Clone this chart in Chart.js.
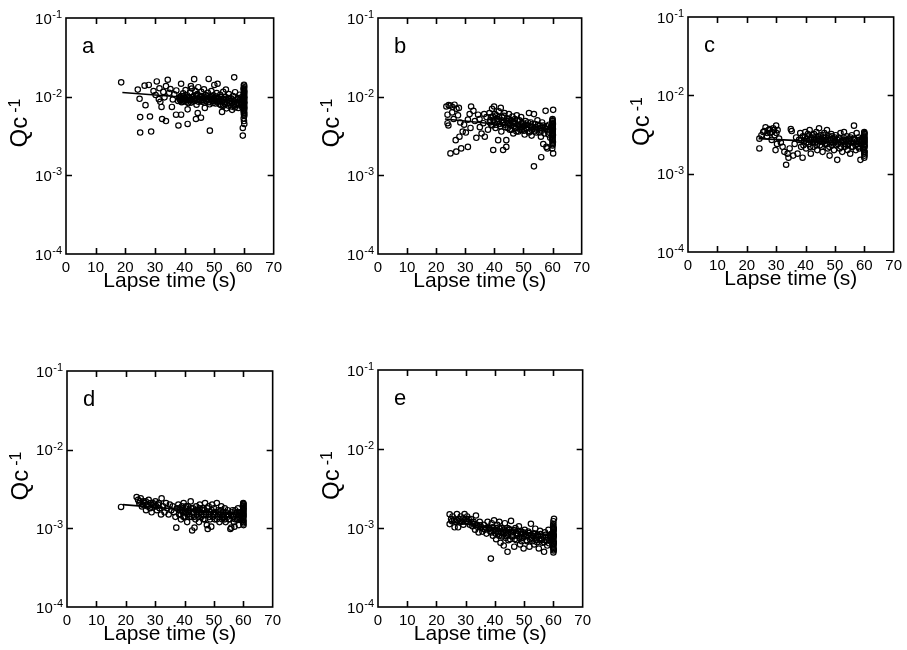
<!DOCTYPE html>
<html>
<head>
<meta charset="utf-8">
<script src="https://cdn.jsdelivr.net/npm/chart.js@4/dist/chart.umd.min.js"></script>
<style>
  html, body { margin: 0; padding: 0; background: #fff; width: 907px; height: 650px; overflow: hidden; }
  canvas { position: absolute; }
</style>
</head>
<body>
<canvas id="panelA"></canvas>
<canvas id="panelB"></canvas>
<canvas id="panelC"></canvas>
<canvas id="panelD"></canvas>
<canvas id="panelE"></canvas>
<script>
// axis ticks
const xTicks = [0, 10, 20, 30, 40, 50, 60, 70];
const yTicks = [1e-4, 1e-3, 1e-2, 1e-1];
const yTickExp = ['-4', '-3', '-2', '-1'];
const panelLetters = ['a', 'b', 'c', 'd', 'e'];

// panel a : [lapse time (s), Qc^-1]
const ptsA = [
  [18.6,0.0152],[24.2,0.0123],[24.8,0.0094],[25.0,0.0055],[25.0,0.0035],[26.8,0.0078],[26.5,0.0138],[27.9,0.0141],
  [28.3,0.0056],[28.7,0.0036],[30.6,0.0156],[31.3,0.0093],[32.2,0.0074],[32.4,0.0052],[33.7,0.0049],[33.7,0.0136],
  [34.3,0.0164],[35.7,0.0074],[37.1,0.0059],[37.9,0.0043],[38.8,0.0059],[38.8,0.0146],[41.0,0.0045],[41.0,0.0069],
  [42.1,0.0136],[43.2,0.0167],[43.8,0.0052],[44.4,0.0062],[45.5,0.0054],[48.1,0.0168],[48.5,0.0037],[50.0,0.0141],
  [51.1,0.0146],[52.6,0.0064],[53.9,0.0123],[56.7,0.0176],[59.6,0.0032],[59.6,0.0040],
  [29.5,0.0118],[30.2,0.0105],[31.5,0.0128],[31.8,0.0086],[32.8,0.0115],[33.2,0.0098],[34.8,0.0112],[35.2,0.0125],
  [36.0,0.0092],[36.5,0.0107],[37.2,0.0120],[37.8,0.0088],
  [38.2,0.0095],[38.5,0.0090],[38.7,0.0102],[39.0,0.0085],[39.2,0.0093],[39.5,0.0110],[39.8,0.0097],[40.0,0.0088],
  [40.3,0.0121],[40.5,0.0092],[40.8,0.0104],[41.2,0.0083],[41.5,0.0098],[41.8,0.0113],[42.0,0.0091],[42.4,0.0127],
  [42.7,0.0087],[43.0,0.0101],[43.3,0.0094],[43.6,0.0118],[44.0,0.0079],[44.3,0.0108],[44.6,0.0132],[44.9,0.0090],
  [45.2,0.0100],[45.6,0.0115],[45.9,0.0086],[46.2,0.0096],[46.5,0.0124],[46.8,0.0072],[47.1,0.0105],[47.5,0.0093],
  [47.8,0.0112],[48.2,0.0085],[48.6,0.0099],[49.0,0.0118],[49.3,0.0088],[49.7,0.0104],[50.1,0.0093],[50.4,0.0082],
  [50.8,0.0111],[51.2,0.0097],[51.6,0.0087],[52.0,0.0106],[52.3,0.0078],[52.7,0.0094],[53.0,0.0115],[53.4,0.0085],
  [53.8,0.0099],[54.1,0.0071],[54.5,0.0090],[54.9,0.0108],[55.2,0.0083],[55.6,0.0095],[56.0,0.0068],[56.3,0.0102],
  [56.7,0.0087],[57.0,0.0114],[57.4,0.0079],[57.8,0.0093],[58.1,0.0072],[58.5,0.0106],[58.8,0.0085],[59.2,0.0098],
  [38.4,0.0098],[38.9,0.0092],[39.4,0.0087],[39.6,0.0101],[40.1,0.0095],[40.6,0.0086],[40.9,0.0098],[41.3,0.0090],
  [41.7,0.0095],[42.2,0.0084],[42.5,0.0099],[42.9,0.0093],[43.4,0.0088],[43.8,0.0104],[44.2,0.0093],[44.7,0.0086],
  [45.1,0.0094],[45.4,0.0089],[45.8,0.0102],[46.3,0.0091],[46.6,0.0084],[47.0,0.0097],[47.3,0.0088],[47.7,0.0101],
  [48.0,0.0092],[48.4,0.0080],[48.8,0.0094],[49.2,0.0100],[49.5,0.0083],[49.9,0.0097],[50.3,0.0089],[50.6,0.0100],
  [51.0,0.0086],[51.4,0.0093],[51.8,0.0080],[52.2,0.0099],[52.5,0.0087],[52.9,0.0076],[53.2,0.0092],[53.6,0.0080],
  [54.0,0.0094],[54.3,0.0083],[54.7,0.0077],[55.0,0.0096],[55.4,0.0088],[55.8,0.0075],[56.1,0.0092],[56.5,0.0080],
  [56.9,0.0073],[57.2,0.0090],[57.6,0.0084],[58.0,0.0096],[58.3,0.0078],[58.7,0.0091],[59.0,0.0082],[59.4,0.0074],
  [59.5,0.0088],
  [60.0,0.0142],[60.1,0.0132],[59.9,0.0124],[60.0,0.0117],[60.1,0.0110],[59.9,0.0104],[60.0,0.0099],[60.1,0.0094],
  [59.9,0.0089],[60.0,0.0085],[60.1,0.0081],[59.9,0.0077],[60.0,0.0073],[60.1,0.0069],[59.9,0.0065],[60.0,0.0061],
  [60.1,0.0057],[59.9,0.0053],[60.0,0.0049],[60.1,0.0045],
  [60.0,0.0138],[59.9,0.0128],[60.1,0.0120],[60.0,0.0113],[59.9,0.0107],[60.1,0.0101],[60.0,0.0096],[59.9,0.0091],
  [60.1,0.0087],[60.0,0.0083],[59.9,0.0079],[60.1,0.0075],[60.0,0.0071],[59.9,0.0067],[60.1,0.0063],[60.0,0.0059]
];
const fitAX = [19, 60];
const fitAY = [0.0113, 0.0086];

// panel b
const ptsB = [
  [23.5,0.0075],[24.3,0.0078],[24.9,0.0077],[25.6,0.0074],[26.3,0.0079],[27.0,0.0070],[27.8,0.0072],[23.9,0.0059],
  [23.9,0.0046],[24.2,0.0043],[24.9,0.0019],[26.9,0.0020],[28.6,0.0022],[30.9,0.0023],[26.7,0.0028],[28.0,0.0031],
  [29.1,0.0036],[29.6,0.0044],[30.9,0.0051],[31.5,0.0060],[32.0,0.0075],[32.8,0.0066],[33.3,0.0049],[33.8,0.0030],
  [34.4,0.0059],[35.0,0.0041],[35.6,0.0034],[36.2,0.0046],[36.7,0.0031],[37.3,0.0055],[37.8,0.0038],[30.2,0.0035],
  [31.8,0.0040],[27.5,0.0058],[28.3,0.0047],[25.5,0.0063],[26.0,0.0052],[34.9,0.0052],[36.5,0.0060],
  [38.3,0.0062],[38.6,0.0050],[38.9,0.0044],[39.2,0.0070],[39.5,0.0056],[39.6,0.0021],[39.9,0.0075],[40.1,0.0047],
  [40.4,0.0040],[40.7,0.0058],[41.0,0.0052],[41.3,0.0028],[41.5,0.0065],[41.8,0.0045],[42.2,0.0072],[42.4,0.0036],
  [42.7,0.0055],[43.0,0.0021],[43.2,0.0048],[43.5,0.0062],[43.8,0.0041],[44.1,0.0023],[44.1,0.0028],[44.4,0.0053],
  [44.7,0.0046],[45.0,0.0060],[45.3,0.0038],[45.6,0.0050],[45.9,0.0043],[46.2,0.0056],[46.5,0.0034],[46.8,0.0047],
  [47.1,0.0052],[47.4,0.0040],[47.7,0.0058],[48.0,0.0044],[48.3,0.0036],[48.6,0.0050],[48.9,0.0041],[49.2,0.0055],
  [49.5,0.0038],[49.8,0.0046],[50.1,0.0042],[50.4,0.0033],[50.7,0.0049],[51.0,0.0039],[51.3,0.0044],[51.9,0.0062],
  [52.2,0.0036],[52.5,0.0047],[52.8,0.0032],[53.1,0.0041],[53.6,0.0060],[53.6,0.0013],[54.0,0.0045],[54.4,0.0035],
  [54.8,0.0050],[55.2,0.0039],[55.6,0.0043],[56.0,0.0031],[56.1,0.0017],[56.4,0.0047],[56.8,0.0025],[57.2,0.0040],
  [57.6,0.0066],[57.9,0.0023],[58.2,0.0022],[58.4,0.0036],[58.8,0.0044],[59.2,0.0030],
  [38.4,0.0047],[38.8,0.0055],[39.3,0.0043],[39.7,0.0051],[40.2,0.0060],[40.6,0.0044],[41.1,0.0049],[41.6,0.0055],
  [42.0,0.0042],[42.5,0.0050],[42.9,0.0046],[43.3,0.0057],[43.7,0.0044],[44.2,0.0049],[44.6,0.0040],[45.1,0.0052],
  [45.5,0.0045],[45.9,0.0038],[46.3,0.0048],[46.7,0.0042],[47.2,0.0046],[47.6,0.0036],[48.0,0.0050],[48.5,0.0043],
  [48.9,0.0038],[49.3,0.0046],[49.7,0.0041],[50.2,0.0037],[50.6,0.0044],[51.1,0.0040],[51.5,0.0047],[51.9,0.0035],
  [52.4,0.0042],[52.8,0.0038],[53.3,0.0045],[53.7,0.0036],[54.2,0.0041],[54.6,0.0038],[55.0,0.0044],[55.5,0.0035],
  [55.9,0.0040],[56.3,0.0037],[56.8,0.0043],[57.2,0.0034],[57.7,0.0039],[58.1,0.0042],[58.6,0.0033],[59.0,0.0038],
  [59.4,0.0041],
  [60.2,0.0068],[60.0,0.0052],[59.9,0.0049],[60.1,0.0046],[60.0,0.0043],[59.9,0.0041],[60.1,0.0039],[60.0,0.0037],
  [59.9,0.0035],[60.1,0.0033],[60.0,0.0031],[59.9,0.0029],[60.1,0.0027],[60.0,0.0025],[60.2,0.0019],
  [60.0,0.0050],[59.9,0.0047],[60.1,0.0044],[60.0,0.0042],[59.9,0.0040],[60.1,0.0038],[60.0,0.0036],[59.9,0.0034],
  [60.1,0.0032],[60.0,0.0030],[59.9,0.0028],[60.1,0.0026],[60.0,0.0024],[59.9,0.0022]
];
const fitBX = [23, 60];
const fitBY = [0.0052, 0.0038];

// panel c
const ptsC = [
  [24.3,0.0028],[24.3,0.0021],[25.0,0.0031],[25.6,0.0034],[26.4,0.0039],[26.9,0.0030],[27.4,0.0036],[28.0,0.0033],
  [28.5,0.0027],[29.0,0.0038],[29.5,0.0031],[30.0,0.0041],[30.5,0.0036],[30.3,0.0024],[29.8,0.0020],[31.0,0.0028],
  [31.6,0.0025],[32.2,0.0022],[32.8,0.0019],[33.4,0.0013],[33.9,0.0018],[34.2,0.0016],[34.6,0.0021],[35.0,0.0037],
  [35.3,0.0035],[35.8,0.0017],[36.3,0.0024],[36.8,0.0029],[37.3,0.0018],[37.8,0.0027],
  [26.0,0.0035],[27.0,0.0033],[27.8,0.0037],[28.6,0.0034],[29.3,0.0036],[30.1,0.0033],
  [38.2,0.0033],[38.5,0.0022],[39.0,0.0016],[39.1,0.0030],[39.5,0.0026],[39.9,0.0034],[40.2,0.0021],[40.5,0.0028],
  [40.8,0.0032],[41.1,0.0024],[41.4,0.0036],[41.8,0.0018],[42.0,0.0027],[42.4,0.0031],[42.7,0.0022],[43.0,0.0029],
  [43.3,0.0025],[43.7,0.0034],[44.0,0.0020],[44.3,0.0028],[44.6,0.0038],[44.9,0.0023],[45.2,0.0031],[45.5,0.0026],
  [45.8,0.0019],[46.1,0.0029],[46.4,0.0033],[46.7,0.0024],[47.0,0.0027],[47.3,0.0036],[47.6,0.0021],[47.9,0.0030],
  [48.2,0.0017],[48.5,0.0025],[48.8,0.0032],[49.1,0.0023],[49.4,0.0028],[49.7,0.0020],[50.0,0.0026],[50.3,0.0031],
  [50.8,0.0015],[51.0,0.0024],[51.3,0.0029],[51.6,0.0021],[51.9,0.0033],[52.2,0.0025],[52.5,0.0019],[52.8,0.0027],
  [53.1,0.0034],[53.4,0.0022],[53.7,0.0026],[54.0,0.0030],[54.3,0.0020],[54.6,0.0024],[54.9,0.0028],[55.2,0.0018],
  [55.5,0.0025],[55.8,0.0031],[56.1,0.0022],[56.5,0.0041],[56.8,0.0027],[57.1,0.0020],[57.4,0.0033],[57.7,0.0024],
  [58.0,0.0029],[58.3,0.0021],[58.7,0.0015],[59.0,0.0026],
  [38.6,0.0027],[39.3,0.0023],[39.8,0.0029],[40.3,0.0025],[40.7,0.0030],[41.2,0.0027],[41.6,0.0022],[42.1,0.0029],
  [42.5,0.0025],[42.9,0.0032],[43.4,0.0027],[43.8,0.0023],[44.2,0.0030],[44.7,0.0026],[45.1,0.0028],[45.5,0.0022],
  [46.0,0.0031],[46.4,0.0026],[46.9,0.0029],[47.3,0.0024],[47.7,0.0028],[48.1,0.0022],[48.6,0.0027],[49.0,0.0030],
  [49.5,0.0025],[49.9,0.0029],[50.4,0.0023],[50.8,0.0027],[51.2,0.0025],[51.7,0.0028],[52.1,0.0022],[52.6,0.0026],
  [53.0,0.0029],[53.5,0.0024],[53.9,0.0027],[54.4,0.0023],[54.8,0.0026],[55.3,0.0029],[55.7,0.0022],[56.2,0.0025],
  [56.6,0.0028],[57.0,0.0023],[57.5,0.0026],[57.9,0.0022],[58.4,0.0027],[58.8,0.0024],[59.3,0.0028],[59.5,0.0021],
  [60.0,0.0034],[60.1,0.0032],[59.9,0.0030],[60.0,0.0028],[60.1,0.0026],[59.9,0.0025],[60.0,0.0023],[60.1,0.0022],
  [59.9,0.0020],[60.0,0.0019],[60.1,0.0017],[60.0,0.0016],
  [60.0,0.0033],[59.9,0.0031],[60.1,0.0029],[60.0,0.0027],[59.9,0.0026],[60.1,0.0024],[60.0,0.0022],[59.9,0.0021],
  [60.1,0.0019],[60.0,0.0018]
];
const fitCX = [24, 60];
const fitCY = [0.0028, 0.0024];

// panel d
const ptsD = [
  [18.4,0.00187],[23.7,0.0025],[24.2,0.0023],[24.6,0.0021],[25.1,0.0024],[25.5,0.0019],[26.0,0.0022],[26.5,0.0021],
  [26.9,0.0017],[27.4,0.0020],[27.8,0.0023],[28.3,0.0018],[28.8,0.0016],[29.2,0.0021],[29.7,0.0019],[30.1,0.0022],
  [30.6,0.0017],[31.0,0.0020],[31.5,0.0018],[32.0,0.0015],[32.2,0.0024],[32.7,0.0019],[33.2,0.0016],[33.7,0.0021],
  [34.1,0.0018],[34.6,0.0015],[35.0,0.0020],[35.5,0.0017],[36.0,0.0019],[36.4,0.0016],[36.9,0.0014],[37.2,0.00102],
  [37.4,0.0018],
  [24.8,0.0022],[25.8,0.0020],[26.8,0.0022],[27.5,0.0019],[28.5,0.0021],[29.5,0.0020],[30.4,0.0019],[31.3,0.0021],
  [37.9,0.0020],[38.2,0.0015],[38.5,0.0017],[38.8,0.0013],[39.1,0.0019],[39.4,0.0016],[39.7,0.0021],[40.0,0.0014],
  [40.3,0.0018],[40.6,0.0016],[40.9,0.0012],[41.2,0.0019],[41.5,0.0015],[41.8,0.0017],[42.1,0.0022],[42.4,0.0014],
  [42.6,0.00094],[42.9,0.0018],[43.2,0.0016],[43.4,0.00102],[43.7,0.0013],[44.0,0.0019],[44.3,0.0015],[44.6,0.0017],
  [44.9,0.0012],[45.2,0.0020],[45.5,0.0016],[45.8,0.0014],[46.1,0.0018],[46.4,0.0013],[46.7,0.0017],[47.0,0.0021],
  [47.3,0.0015],[47.6,0.0011],[47.9,0.00098],[48.2,0.0019],[48.5,0.0014],[48.8,0.0016],[49.1,0.00105],[49.4,0.0020],
  [49.7,0.0015],[50.0,0.0018],[50.3,0.0013],[50.6,0.0016],[51.0,0.0021],[51.3,0.0014],[51.6,0.0017],[51.9,0.0012],
  [52.2,0.0015],[52.5,0.0019],[52.8,0.0013],[53.1,0.0016],[53.4,0.0014],[53.7,0.0018],[54.0,0.0012],[54.3,0.0015],
  [54.7,0.0017],[55.0,0.0013],[55.6,0.00098],[55.9,0.00102],[56.2,0.0016],[56.5,0.0014],[56.8,0.0012],[57.0,0.00105],
  [57.3,0.0017],[57.6,0.0015],[57.9,0.0013],[58.2,0.0018],[58.5,0.0011],[58.8,0.0015],[59.1,0.0016],
  [38.3,0.0018],[38.7,0.0015],[39.2,0.0017],[39.6,0.0014],[40.1,0.0016],[40.5,0.0019],[41.0,0.0015],[41.4,0.0017],
  [41.9,0.0014],[42.3,0.0018],[42.8,0.0016],[43.3,0.0014],[43.8,0.0017],[44.2,0.0016],[44.7,0.0014],[45.1,0.0018],
  [45.6,0.0015],[46.0,0.0017],[46.5,0.0015],[46.9,0.0013],[47.4,0.0016],[47.8,0.0018],[48.3,0.0015],[48.7,0.0013],
  [49.2,0.0017],[49.6,0.0014],[50.1,0.0016],[50.5,0.0015],[51.0,0.0013],[51.4,0.0016],[51.9,0.0015],[52.3,0.0017],
  [52.8,0.0014],[53.2,0.0015],[53.7,0.0013],[54.1,0.0016],[54.6,0.0014],[55.0,0.0015],[55.5,0.0013],[55.9,0.0015],
  [56.4,0.0017],[56.8,0.0014],[57.3,0.0013],[57.7,0.0016],[58.2,0.0014],[58.6,0.0016],[59.1,0.0013],[59.5,0.0015],
  [60.0,0.0021],[60.1,0.0020],[59.9,0.0019],[60.0,0.0018],[60.1,0.0017],[59.9,0.0016],[60.0,0.0015],[60.1,0.0014],
  [59.9,0.0013],[60.0,0.0012],[60.1,0.0011],
  [60.0,0.00205],[59.9,0.00195],[60.1,0.00185],[60.0,0.00175],[59.9,0.00165],[60.1,0.00155],[60.0,0.00145],
  [59.9,0.00135],[60.1,0.00125],[60.0,0.00115]
];
const fitDX = [19, 60];
const fitDY = [0.0020, 0.0015];

// panel e
const ptsE = [
  [24.5,0.00149],[24.5,0.00112],[25.0,0.0013],[25.5,0.0014],[26.2,0.00102],[26.6,0.0012],[27.0,0.0015],[27.4,0.00102],
  [27.9,0.0013],[28.3,0.0014],[28.8,0.0012],[29.2,0.0011],[29.6,0.0015],[30.0,0.0013],[30.5,0.0014],[30.9,0.0012],
  [31.4,0.0011],[31.8,0.0013],[32.3,0.00105],[32.7,0.0012],[33.2,0.00095],[33.5,0.00144],[33.9,0.0011],[34.4,0.00088],
  [34.8,0.0012],[35.3,0.00102],[35.7,0.0009],[36.2,0.0011],[36.6,0.00095],[37.1,0.00085],[37.5,0.0012],[38.0,0.0010],
  [25.3,0.00122],[26.0,0.00128],[27.2,0.00125],[28.0,0.00118],[29.0,0.00132],[30.2,0.00122],[31.0,0.0013],[32.0,0.00118],
  [33.0,0.00112],[34.0,0.00104],[35.0,0.00108],[36.0,0.00098],[37.0,0.0010],
  [38.4,0.0009],[38.6,0.00041],[38.9,0.00115],[39.3,0.0008],[39.7,0.00125],[40.0,0.00095],[40.4,0.00072],[40.8,0.0011],
  [41.2,0.00085],[41.5,0.0012],[41.9,0.00065],[42.3,0.0010],[42.7,0.0009],[43.0,0.0006],[43.4,0.00115],[43.8,0.0008],
  [44.2,0.0010],[44.3,0.0005],[44.6,0.0007],[45.0,0.00095],[45.5,0.00123],[45.8,0.00078],[46.2,0.0009],[46.6,0.00058],
  [47.0,0.0010],[47.4,0.0007],[47.8,0.00085],[48.2,0.00105],[48.6,0.00062],[49.0,0.0009],[49.4,0.00075],[49.8,0.00055],
  [50.2,0.00095],[50.6,0.0008],[51.0,0.00068],[51.4,0.0009],[51.8,0.00058],[52.3,0.00113],[52.6,0.00075],[53.0,0.00085],
  [53.4,0.00062],[53.8,0.00098],[54.2,0.0007],[54.6,0.00082],[55.0,0.00055],[55.4,0.00092],[55.8,0.00072],[56.2,0.00065],
  [56.8,0.0005],[57.1,0.00088],[57.5,0.00078],[57.9,0.0006],[58.3,0.00095],[58.7,0.0007],[59.1,0.00082],
  [38.2,0.00098],[38.8,0.00088],[39.1,0.00102],[39.5,0.00092],[40.2,0.00085],[40.6,0.0010],[41.0,0.0009],[41.4,0.0008],
  [41.7,0.00098],[42.1,0.00088],[42.5,0.00078],[42.9,0.00095],[43.2,0.00085],[43.6,0.00075],[44.0,0.0009],[44.4,0.00082],
  [44.8,0.00098],[45.2,0.00072],[45.6,0.00088],[46.0,0.0008],[46.4,0.00094],[46.8,0.00072],[47.2,0.00086],[47.6,0.0008],
  [48.0,0.00092],[48.4,0.00075],[48.8,0.00083],[49.2,0.00068],[49.6,0.00088],[50.0,0.00078],[50.4,0.00085],[50.8,0.0007],
  [51.2,0.0008],[51.6,0.00086],[52.0,0.00072],[52.4,0.00082],[52.8,0.00068],[53.2,0.00078],[53.6,0.00085],[54.0,0.00074],
  [54.4,0.00066],[54.8,0.0008],[55.2,0.00072],[55.6,0.00084],[56.0,0.0007],[56.4,0.00078],[56.8,0.00066],[57.3,0.00082],
  [57.7,0.0007],[58.1,0.00076],[58.5,0.00064],[58.9,0.00078],[59.3,0.0007],[59.5,0.00085],
  [60.2,0.00131],[60.0,0.00112],[59.9,0.00103],[60.1,0.00096],[60.0,0.0009],[59.9,0.00084],[60.1,0.00079],[60.0,0.00074],
  [59.9,0.00069],[60.1,0.00064],[60.0,0.0006],[59.9,0.00056],[60.1,0.00052],[60.0,0.00049],
  [60.0,0.00122],[59.9,0.00108],[60.1,0.0010],[60.0,0.00093],[59.9,0.00087],[60.1,0.00082],[60.0,0.00077],[59.9,0.00072],
  [60.1,0.00067],[60.0,0.00062],[59.9,0.00058],[60.1,0.00054]
];
const fitEX = [24, 60];
const fitEY = [0.0012, 0.00078];

const FONT = '"Liberation Sans", Arial, Helvetica, sans-serif';
Chart.defaults.font.family = FONT;
Chart.defaults.color = '#000';

const PAD_L = 66, PAD_T = 18, PAD_R = 12, PAD_B = 46;
const TICK_LEN = 6;

// frame, inward ticks, y tick labels, panel letter and y title
const framePlugin = {
  id: 'frame',
  afterDraw(chart, args, opts) {
    const { ctx, chartArea: a, scales: { x, y } } = chart;
    ctx.save();
    ctx.strokeStyle = '#000';
    ctx.lineWidth = 1.6;
    ctx.strokeRect(a.left, a.top, a.right - a.left, a.bottom - a.top);
    ctx.beginPath();
    x.ticks.forEach(t => {
      if (t.value <= xTicks[0] || t.value >= xTicks[xTicks.length - 1]) return;
      const px = Math.round(x.getPixelForValue(t.value)) + 0.5;
      ctx.moveTo(px, a.bottom); ctx.lineTo(px, a.bottom - TICK_LEN);
      ctx.moveTo(px, a.top); ctx.lineTo(px, a.top + TICK_LEN);
    });
    y.ticks.forEach(t => {
      if (t.value <= yTicks[0] || t.value >= yTicks[yTicks.length - 1]) return;
      const py = Math.round(y.getPixelForValue(t.value)) + 0.5;
      ctx.moveTo(a.left, py); ctx.lineTo(a.left + TICK_LEN, py);
      ctx.moveTo(a.right, py); ctx.lineTo(a.right - TICK_LEN, py);
    });
    ctx.stroke();

    // y tick labels 10^n
    ctx.fillStyle = '#000';
    ctx.textBaseline = 'alphabetic';
    ctx.textAlign = 'right';
    y.ticks.forEach(t => {
      const i = yTicks.indexOf(t.value);
      if (i < 0) return;
      const py = y.getPixelForValue(t.value);
      ctx.font = '11px ' + FONT;
      const wSup = ctx.measureText(yTickExp[i]).width;
      ctx.fillText(yTickExp[i], a.left - 4, py);
      ctx.font = '15px ' + FONT;
      ctx.fillText('10', a.left - 4 - wSup - 0.5, py + 5.5);
    });

    // panel letter
    ctx.textAlign = 'left';
    ctx.font = '22px ' + FONT;
    ctx.fillText(opts.letter, a.left + 16, a.top + 35);

    // y axis title: Qc^-1
    ctx.translate(0, (a.top + a.bottom) / 2 - 13);
    ctx.rotate(-Math.PI / 2);
    ctx.font = '24px ' + FONT;
    const wQ = ctx.measureText('Qc').width;
    ctx.font = '16px ' + FONT;
    const wS = ctx.measureText('-1').width;
    const start = -(wQ + 4 + wS) / 2;
    ctx.font = '24px ' + FONT;
    ctx.fillText('Qc', start, 27);
    ctx.font = '16px ' + FONT;
    ctx.fillText('-1', start + wQ + 4, 20);
    ctx.restore();
  }
};

function makePanel(id, box, letter, pts, fitX, fitY) {
  const cv = document.getElementById(id);
  cv.width = box.r - box.l + PAD_L + PAD_R;
  cv.height = box.b - box.t + PAD_T + PAD_B;
  cv.style.left = (box.l - PAD_L) + 'px';
  cv.style.top = (box.t - PAD_T) + 'px';

  return new Chart(cv.getContext('2d'), {
    type: 'scatter',
    data: {
      datasets: [
        {
          data: fitX.map((v, i) => ({ x: v, y: fitY[i] })),
          showLine: true,
          borderColor: '#000',
          borderWidth: 1.6,
          pointRadius: 0
        },
        {
          data: pts.map(p => ({ x: p[0], y: p[1] })),
          pointRadius: 2.7,
          pointBorderWidth: 1.2,
          pointBorderColor: '#000',
          pointBackgroundColor: 'rgba(255,255,255,0)'
        }
      ]
    },
    options: {
      responsive: false,
      animation: false,
      devicePixelRatio: 1,
      layout: { padding: { left: 0, top: PAD_T, right: PAD_R, bottom: 0 } },
      plugins: {
        legend: { display: false },
        tooltip: { enabled: false },
        frame: { letter: letter }
      },
      scales: {
        x: {
          type: 'linear',
          min: xTicks[0],
          max: xTicks[xTicks.length - 1],
          afterBuildTicks(s) { s.ticks = xTicks.map(v => ({ value: v })); },
          afterFit(s) { s.height = PAD_B; },
          ticks: { padding: 5, color: '#000', font: { size: 15 } },
          grid: { display: false, drawTicks: false },
          border: { display: false },
          title: { display: true, text: 'Lapse time (s)', color: '#000', font: { size: 21 }, padding: { top: 0, bottom: 6 } }
        },
        y: {
          type: 'logarithmic',
          min: yTicks[0],
          max: yTicks[yTicks.length - 1],
          afterBuildTicks(s) { s.ticks = yTicks.map(v => ({ value: v })); },
          afterFit(s) { s.width = PAD_L; },
          ticks: { display: false },
          grid: { display: false, drawTicks: false },
          border: { display: false }
        }
      }
    },
    plugins: [framePlugin]
  });
}

const chartA = makePanel('panelA', { l: 66, t: 18, r: 275, b: 254 }, panelLetters[0], ptsA, fitAX, fitAY);
const chartB = makePanel('panelB', { l: 378, t: 18, r: 583, b: 254 }, panelLetters[1], ptsB, fitBX, fitBY);
const chartC = makePanel('panelC', { l: 688, t: 17, r: 895, b: 252 }, panelLetters[2], ptsC, fitCX, fitCY);
const chartD = makePanel('panelD', { l: 67, t: 371, r: 274, b: 607 }, panelLetters[3], ptsD, fitDX, fitDY);
const chartE = makePanel('panelE', { l: 378, t: 370, r: 584, b: 607 }, panelLetters[4], ptsE, fitEX, fitEY);
</script>
</body>
</html>
